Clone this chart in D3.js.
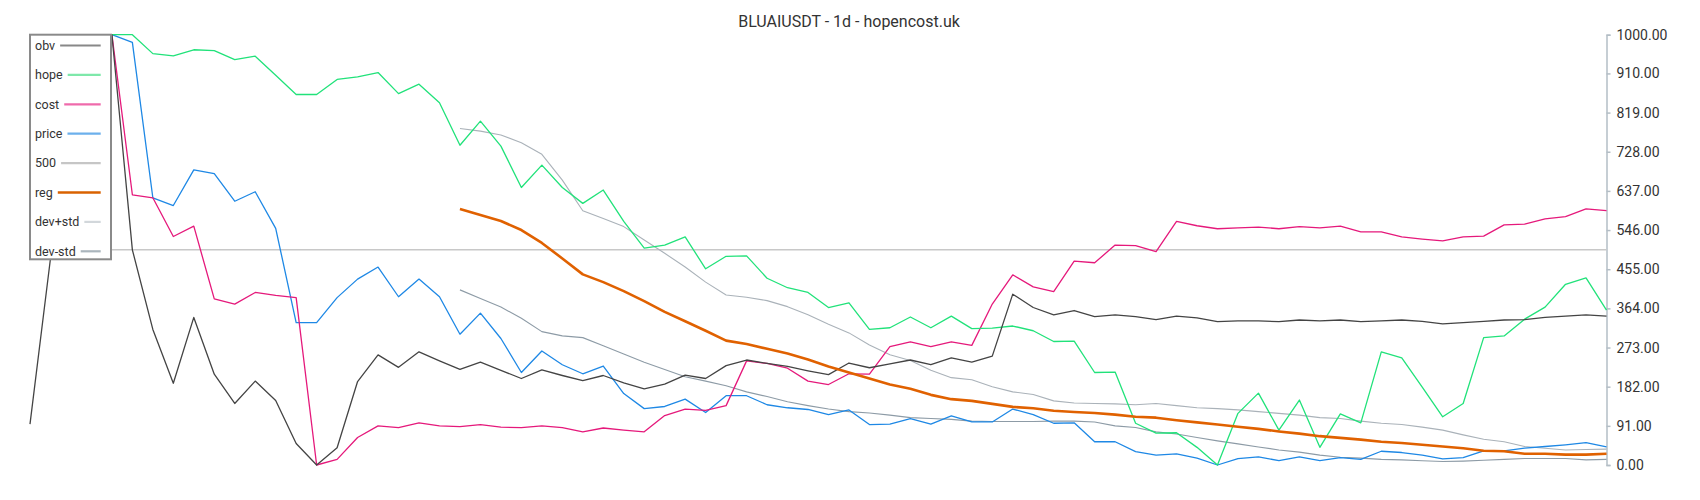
<!DOCTYPE html>
<html>
<head>
<meta charset="utf-8">
<script src="https://cdn.jsdelivr.net/npm/d3@7"></script>
<style>
  body { margin: 0; background: #fff; }
  svg { font-family: Roboto, "Noto Sans", sans-serif; }
</style>
</head>
<body>
<svg id="chart" width="1700" height="500"></svg>
<script>
// day index along the x axis (78 daily candles)
const days = d3.range(78);

const obv = [95, 480, 650, 850, 1000, 500, 315, 190, 343, 211, 143, 195, 150, 50, 0, 40, 194, 256, 227, 263,
  242, 222, 239, 220, 201, 221, 208, 196, 208, 191, 177, 188, 209, 201, 231, 244, 236, 229, 219, 210,
  237, 226, 235, 244, 233, 249, 239, 253, 397, 366, 349, 359, 345, 349, 345, 338, 346, 342, 333, 335,
  335, 333, 337, 335, 337, 333, 335, 337, 334, 328, 331, 334, 337, 338, 343, 346, 349, 346];

const hope = [null, null, null, null, 1000, 1000, 956, 951, 965, 963, 942, 950, 906, 861, 861, 896, 902, 912, 863, 885,
  842, 743, 799, 741, 645, 697, 645, 608, 639, 566, 504, 511, 530, 456, 485, 486, 434, 412, 401, 366,
  377, 315, 319, 344, 319, 346, 317, 318, 323, 312, 287, 288, 215, 216, 97, 74, 75, 41, 0, 120,
  167, 81, 151, 41, 119, 98, 263, 249, 181, 112, 143, 296, 300, 339, 367, 420, 435, 360];

const cost = [null, null, null, null, 1000, 628, 621, 531, 555, 386, 374, 401, 394, 389, 0, 13, 64, 91, 87, 98,
  91, 89, 94, 88, 87, 91, 87, 77, 86, 81, 77, 115, 130, 127, 138, 242, 236, 225, 195, 187,
  212, 211, 275, 286, 275, 286, 278, 374, 442, 414, 403, 474, 470, 511, 510, 496, 566, 556, 549, 551,
  553, 549, 554, 551, 555, 542, 542, 530, 525, 521, 530, 532, 558, 560, 572, 577, 595, 591];

const price = [null, null, null, null, 1000, 982, 621, 603, 686, 677, 613, 635, 550, 331, 331, 389, 432, 460, 391, 432,
  391, 304, 353, 294, 215, 265, 233, 212, 230, 166, 131, 136, 153, 122, 161, 161, 140, 133, 129, 117,
  128, 94, 95, 108, 95, 114, 100, 100, 130, 117, 97, 98, 54, 54, 31, 23, 26, 16, 0, 15,
  19, 10, 19, 10, 17, 13, 32, 29, 23, 14, 17, 33, 33, 39, 43, 47, 52, 42];

const level500 = days.map(() => 500);

const reg = [null, null, null, null, null, null, null, null, null, null, null, null, null, null, null, null, null, null, null, null,
  null, 595, 581, 567, 546, 516, 480, 443, 425, 404, 381, 356, 334, 312, 289, 281, 270, 259, 245, 229,
  215, 201, 187, 177, 163, 153, 149, 142, 135, 132, 126, 123, 121, 117, 112, 110, 104, 99, 94, 89,
  84, 78, 73, 67, 63, 59, 54, 51, 47, 43, 39, 33, 32, 26, 26, 24, 24, 26];

const devPlus = [null, null, null, null, null, null, null, null, null, null, null, null, null, null, null, null, null, null, null, null,
  null, 782, 776, 767, 749, 722, 662, 591, 573, 554, 523, 492, 460, 425, 395, 390, 382, 368, 349, 327,
  307, 279, 256, 243, 220, 203, 198, 182, 170, 164, 149, 144, 143, 142, 140, 143, 138, 133, 131, 128,
  124, 120, 116, 110, 108, 102, 97, 94, 88, 81, 70, 60, 54, 43, 39, 35, 36, 37];

const devMinus = [null, null, null, null, null, null, null, null, null, null, null, null, null, null, null, null, null, null, null, null,
  null, 407, 387, 367, 341, 310, 300, 296, 277, 258, 239, 222, 205, 195, 184, 170, 159, 147, 138, 130,
  124, 121, 116, 110, 108, 106, 102, 101, 101, 101, 102, 102, 100, 91, 87, 77, 72, 64, 56, 49,
  42, 35, 30, 23, 18, 16, 13, 12, 10, 8, 9, 11, 13, 15, 15, 15, 12, 13];

const yTicks = [0, 91, 182, 273, 364, 455, 546, 637, 728, 819, 910, 1000];

const seriesNames = ['obv', 'hope', 'cost', 'price', '500', 'reg', 'dev+std', 'dev-std'];

const svg = d3.select('#chart');

const x = d3.scaleLinear().domain([0, days.length - 1]).range([30, 1606.5]);
const y = d3.scaleLinear().domain([0, 1000]).range([465, 34.7]);

// title
svg.append('text')
  .attr('x', 849)
  .attr('y', 27)
  .attr('text-anchor', 'middle')
  .attr('font-size', 16)
  .attr('fill', '#333')
  .text('BLUAIUSDT - 1d - hopencost.uk');

// right axis
const axis = svg.append('g')
  .attr('transform', 'translate(1606.5,0)')
  .call(d3.axisRight(y).tickValues(yTicks).tickFormat(d3.format('.2f')).tickSize(4).tickSizeOuter(4).tickPadding(6));
axis.select('.domain').attr('stroke', '#b4bec6').attr('stroke-width', 1.5);
axis.selectAll('.tick line').attr('stroke', '#b4bec6').attr('stroke-width', 1.5);
axis.selectAll('.tick text').attr('fill', '#333').attr('font-size', 14).attr('font-family', 'Roboto, sans-serif');

// lines, drawn bottom to top
const series = [
  { name: '500', values: level500, color: '#c8c8c8', width: 1.5 },
  { name: 'dev-std', values: devMinus, color: '#8d9ba6', width: 1.1 },
  { name: 'dev+std', values: devPlus, color: '#aab2b9', width: 1.1 },
  { name: 'price', values: price, color: '#1e88e5', width: 1.3 },
  { name: 'cost', values: cost, color: '#e5197b', width: 1.3 },
  { name: 'hope', values: hope, color: '#21e27a', width: 1.3 },
  { name: 'obv', values: obv, color: '#444', width: 1.3 },
  { name: 'reg', values: reg, color: '#e06100', width: 2.6 }
];

const line = d3.line()
  .defined(d => d != null)
  .x((d, i) => x(days[i]))
  .y(d => y(d));

svg.append('g')
  .selectAll('path')
  .data(series)
  .enter()
  .append('path')
  .attr('d', d => line(d.values))
  .attr('fill', 'none')
  .attr('stroke', d => d.color)
  .attr('stroke-width', d => d.width)
  .attr('stroke-linejoin', 'round');

// legend box sits over the first days
const legendColors = {
  'obv': '#888', 'hope': '#7ee8aa', 'cost': '#ef6aab', 'price': '#6cb0ec',
  '500': '#c6c6c6', 'reg': '#d96200', 'dev+std': '#d2d7db', 'dev-std': '#aab5bc'
};

const legend = svg.append('g');
legend.append('rect')
  .attr('x', 30)
  .attr('y', 34.7)
  .attr('width', 81)
  .attr('height', 224.6)
  .attr('fill', '#fff')
  .attr('stroke', '#8a8a8a')
  .attr('stroke-width', 2);

seriesNames.forEach((name, i) => {
  const ly = 45.5 + i * 29.4;
  const t = legend.append('text')
    .attr('x', 35)
    .attr('y', ly)
    .attr('dy', '0.35em')
    .attr('font-size', 12.5)
    .attr('fill', '#333')
    .text(name);
  const w = t.node().getComputedTextLength();
  legend.append('line')
    .attr('x1', 35 + w + 5)
    .attr('x2', 100.7)
    .attr('y1', ly)
    .attr('y2', ly)
    .attr('stroke', legendColors[name])
    .attr('stroke-width', name === 'reg' ? 2.5 : 2.2);
});
</script>
</body>
</html>
